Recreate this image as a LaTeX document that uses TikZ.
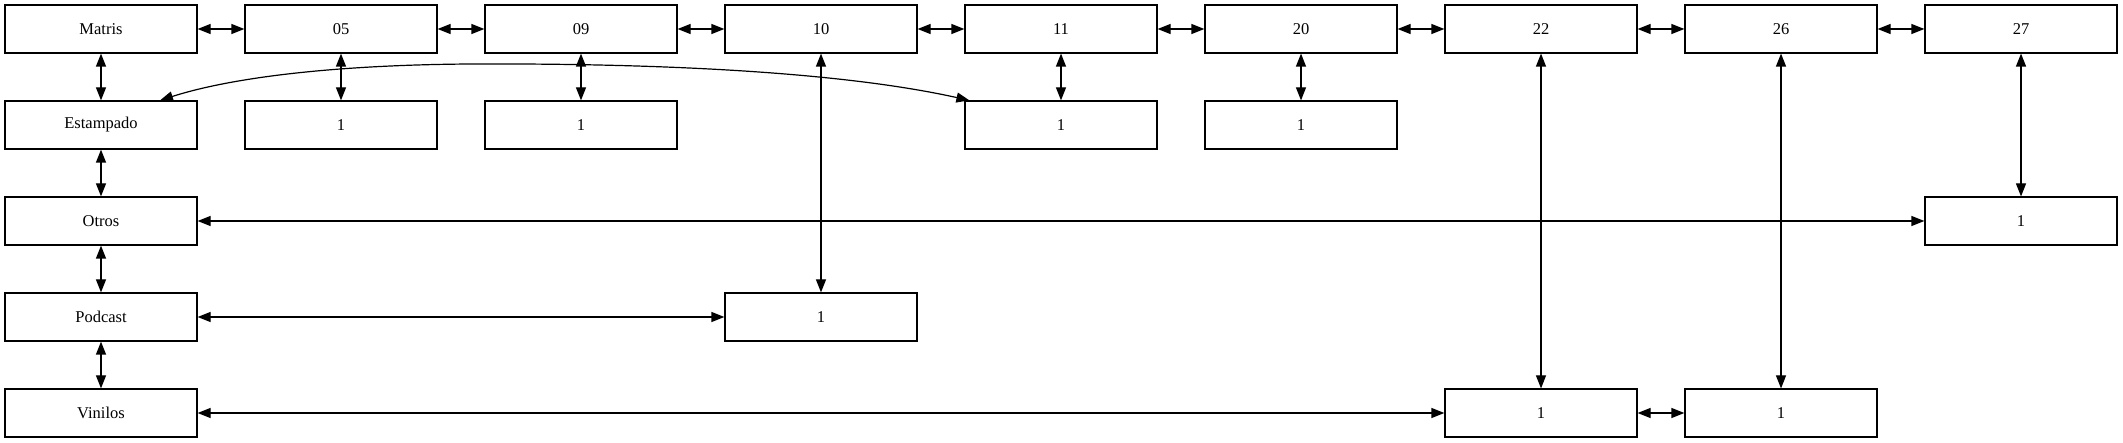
\documentclass[tikz,border=0pt]{standalone}
\usepackage{fontspec}
\setmainfont{Liberation Serif}
\usetikzlibrary{arrows.meta}
\tikzset{
  box/.style={draw, line width=1.2pt, minimum width=192pt, minimum height=48pt, inner sep=0pt, font=\fontsize{16.5}{19}\selectfont},
  link/.style={line width=1.2pt, {Triangle[length=13pt,width=10pt]}-{Triangle[length=13pt,width=10pt]}}
}
\begin{document}
\begin{tikzpicture}[x=1pt,y=-1pt]
\useasboundingbox (0,0) rectangle (2123,443);
% row 1
\node[box] (matris) at (101,29) {Matris};
\node[box] (c05) at (341,29) {05};
\node[box] (c09) at (581,29) {09};
\node[box] (c10) at (821,29) {10};
\node[box] (c11) at (1061,29) {11};
\node[box] (c20) at (1301,29) {20};
\node[box] (c22) at (1541,29) {22};
\node[box] (c26) at (1781,29) {26};
\node[box] (c27) at (2021,29) {27};
% row 2
\node[box] (est) at (101,125) {Estampado};
\node[box] (e1) at (341,125) {1};
\node[box] (e2) at (581,125) {1};
\node[box] (e4) at (1061,125) {1};
\node[box] (e5) at (1301,125) {1};
% row 3
\node[box] (otros) at (101,221) {Otros};
\node[box] (o8) at (2021,221) {1};
% row 4
\node[box] (pod) at (101,317) {Podcast};
\node[box] (p3) at (821,317) {1};
% row 5
\node[box] (vin) at (101,413) {Vinilos};
\node[box] (v6) at (1541,413) {1};
\node[box] (v7) at (1781,413) {1};
% top chain
\draw[link] (matris) -- (c05);
\draw[link] (c05) -- (c09);
\draw[link] (c09) -- (c10);
\draw[link] (c10) -- (c11);
\draw[link] (c11) -- (c20);
\draw[link] (c20) -- (c22);
\draw[link] (c22) -- (c26);
\draw[link] (c26) -- (c27);
% left column
\draw[link] (matris) -- (est);
\draw[link] (est) -- (otros);
\draw[link] (otros) -- (pod);
\draw[link] (pod) -- (vin);
% short verticals
\draw[link] (c05) -- (e1);
\draw[link] (c09) -- (e2);
\draw[link] (c11) -- (e4);
\draw[link] (c20) -- (e5);
% long verticals
\draw[link] (c10) -- (p3);
\draw[link] (c22) -- (v6);
\draw[link] (c26) -- (v7);
\draw[link] (c27) -- (o8);
% long horizontals
\draw[link] (otros) -- (o8);
\draw[link] (pod) -- (p3);
\draw[link] (vin) -- (v6);
\draw[link] (v6) -- (v7);
% curve
\draw[link] ([xshift=59pt]est.north) .. controls (230,78) and (330,65) .. (470,64)
  .. controls (700,63) and (860,76) .. ([xshift=5pt]e4.north west);
\end{tikzpicture}
\end{document}
